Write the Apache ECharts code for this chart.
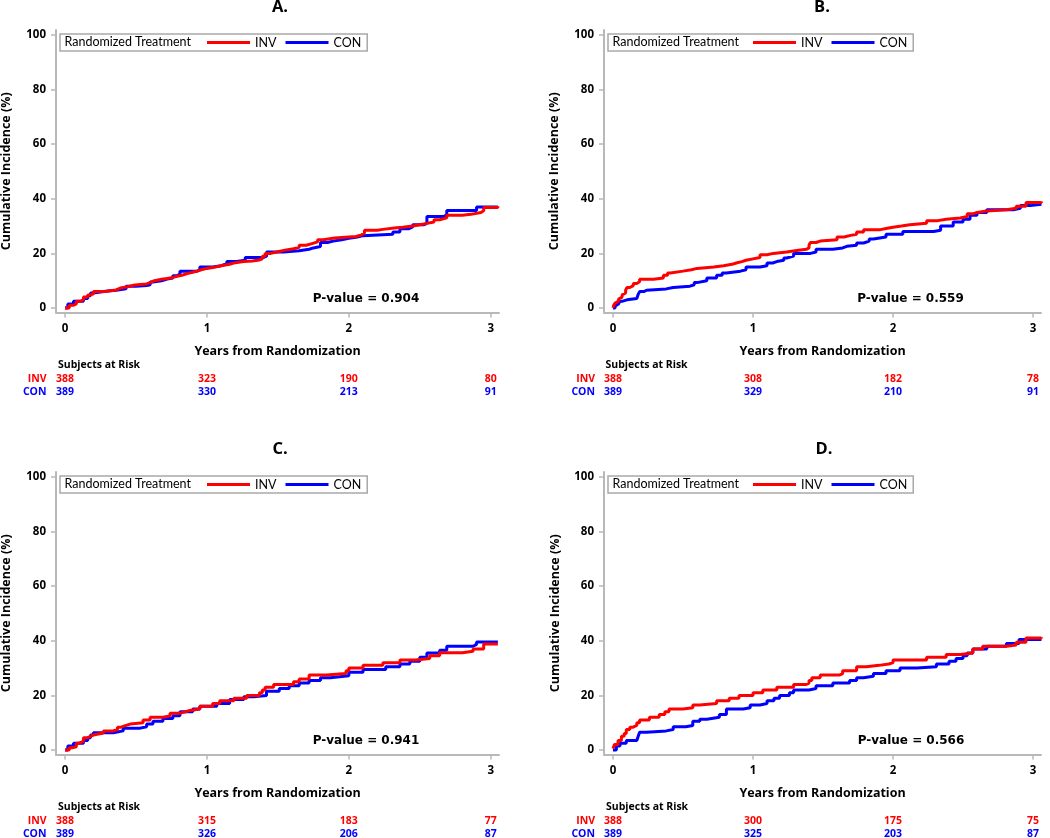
<!DOCTYPE html>
<html><head><meta charset="utf-8">
<script src="https://cdn.jsdelivr.net/npm/echarts@6/dist/echarts.min.js"></script>
<style>html,body{margin:0;padding:0;background:#fff}#c{width:1050px;height:838px}</style>
</head><body><div id="c"></div>
<script>
// ---------- data ----------
const xTicks = [0, 1, 2, 3];
const yTicks = [0, 20, 40, 60, 80, 100];
const panelTitles = ['A.', 'B.', 'C.', 'D.'];
const pValues = ['0.904', '0.559', '0.941', '0.566'];
const groupNames = ['INV', 'CON'];

const invA = [[0,0],[0.03,1],[0.06,1.5],[0.08,2.5],[0.11,3],[0.13,4],[0.16,4.8],[0.18,5.2],[0.2,6],[0.28,6.3],[0.32,6.6],[0.36,7.3],[0.39,7.8],[0.44,8.3],[0.48,8.6],[0.53,8.8],[0.575,9.3],[0.6,10],[0.63,10.5],[0.68,10.8],[0.72,11.2],[0.76,11.6],[0.79,12.1],[0.83,12.6],[0.86,13.1],[0.9,13.5],[0.93,14],[0.96,14.5],[1.0,14.8],[1.04,15.5],[1.1,16],[1.16,16.6],[1.2,17],[1.26,17.2],[1.32,17.6],[1.37,18],[1.39,19],[1.41,20],[1.45,20.6],[1.5,21.2],[1.55,21.7],[1.61,22.2],[1.65,23],[1.7,23.6],[1.74,24.2],[1.78,25],[1.82,25.6],[1.9,26],[2.0,26.2],[2.05,26.8],[2.09,27.5],[2.11,28.5],[2.2,28.8],[2.24,29.3],[2.32,29.6],[2.38,30],[2.45,30.5],[2.5,31],[2.55,31.5],[2.6,32.3],[2.64,33],[2.69,34],[2.8,34.3],[2.86,35],[2.93,35.6],[2.95,36.8],[3.05,37.3]];
const conA = [[0,0],[0.02,1.5],[0.06,2.5],[0.13,3.5],[0.16,4.5],[0.18,5.5],[0.2,6.2],[0.3,6.5],[0.36,7],[0.43,8],[0.5,8.2],[0.575,8.5],[0.6,9.5],[0.62,10],[0.68,10.6],[0.72,11],[0.76,11.8],[0.79,12.5],[0.81,13.5],[0.93,14],[0.95,15],[1.04,15.5],[1.1,16.2],[1.14,17],[1.21,17.5],[1.27,18.5],[1.4,19],[1.42,20.5],[1.54,21],[1.65,21.5],[1.72,22],[1.75,22.5],[1.8,24],[1.85,24.5],[1.89,25],[1.95,25.5],[2.0,26],[2.06,26.5],[2.1,27],[2.31,27.8],[2.36,29],[2.42,29.7],[2.45,30.5],[2.53,31],[2.55,33.5],[2.67,34.2],[2.69,35.7],[2.9,37],[3.05,37]];

const invB = [[0,0],[0.005,1],[0.015,1.8],[0.026,2.5],[0.04,3.3],[0.05,4],[0.065,4.8],[0.074,5.5],[0.09,6.5],[0.1,7.5],[0.12,8.2],[0.145,9],[0.17,9.6],[0.19,10.5],[0.29,11],[0.36,12],[0.39,12.8],[0.41,13.5],[0.5,14],[0.56,14.5],[0.6,15],[0.72,15.5],[0.79,16],[0.85,16.5],[0.88,17],[0.92,17.5],[0.95,18],[1.0,18.5],[1.05,19.5],[1.1,20],[1.145,20.5],[1.24,21],[1.3,21.5],[1.38,22],[1.4,23],[1.41,24],[1.45,24.5],[1.48,25],[1.6,26],[1.65,26.5],[1.69,27],[1.74,27.8],[1.79,28.7],[1.91,29.2],[1.96,29.6],[2.0,30],[2.06,30.5],[2.12,31],[2.24,32],[2.32,32.5],[2.38,33],[2.48,33.5],[2.53,34.5],[2.57,35],[2.6,35.5],[2.67,36],[2.81,36.5],[2.88,37.3],[2.95,38.6],[3.06,39]];
const conB = [[0,0],[0.015,0.8],[0.026,1.5],[0.04,2],[0.05,2.5],[0.07,3],[0.1,3.5],[0.17,4],[0.18,5],[0.19,6],[0.22,6.5],[0.24,7],[0.38,7.5],[0.43,8],[0.55,8.5],[0.58,9.3],[0.6,10],[0.67,11],[0.74,12],[0.78,12.8],[0.81,13.5],[0.91,14],[0.95,15],[1.05,15.5],[1.1,16.5],[1.14,17],[1.17,17.5],[1.22,18.3],[1.24,19],[1.29,20],[1.41,20.5],[1.45,21.5],[1.57,22],[1.64,22.6],[1.67,23],[1.74,23.8],[1.79,24.5],[1.83,25.3],[1.86,26],[1.95,27],[2.07,28],[2.29,28.5],[2.34,30],[2.43,31.5],[2.5,32.5],[2.55,34],[2.6,35],[2.67,36],[2.86,36.5],[2.91,37.5],[2.98,38],[3.06,38]];

const invC = [[0,0],[0.03,0.8],[0.05,1.2],[0.08,2.5],[0.1,3.2],[0.13,4.5],[0.16,5],[0.18,5.5],[0.2,6.2],[0.27,7],[0.34,7.5],[0.37,8.3],[0.39,9],[0.43,9.5],[0.46,10],[0.55,11],[0.6,12],[0.69,12.5],[0.74,13.5],[0.81,14],[0.85,14.5],[0.88,15],[0.95,16],[1.04,17],[1.09,18],[1.19,19],[1.28,20],[1.37,21],[1.39,22],[1.41,23],[1.47,24],[1.61,25],[1.65,26],[1.72,27.5],[1.84,28],[1.98,29],[2.0,30],[2.1,31],[2.24,32],[2.36,33],[2.47,33.5],[2.57,34.5],[2.64,35.6],[2.8,36.2],[2.875,37],[2.95,38.8],[3.05,39]];
const conC = [[0,0],[0.02,1.5],[0.06,2.5],[0.13,3.5],[0.16,4.5],[0.18,5.5],[0.2,6.3],[0.34,7],[0.41,8],[0.53,8.5],[0.575,9.5],[0.62,10.5],[0.69,11.5],[0.76,12.5],[0.81,14],[0.9,15],[0.95,16],[1.07,17],[1.16,18.5],[1.26,19.5],[1.33,20],[1.42,21.5],[1.51,22.5],[1.58,23.5],[1.65,24.5],[1.72,25.5],[1.8,26.5],[1.87,27.2],[2.0,28.5],[2.1,29.5],[2.26,30.5],[2.36,31.5],[2.43,32.5],[2.5,34],[2.55,35.5],[2.64,36.5],[2.69,38],[2.875,38.7],[2.9,39.6],[3.05,39.6]];

const invD = [[0,0.5],[0.01,2],[0.036,3.5],[0.06,5],[0.08,6],[0.095,7.5],[0.12,8.3],[0.14,9],[0.17,10],[0.19,11],[0.26,12],[0.33,13],[0.37,14],[0.4,15],[0.5,15.5],[0.57,16.5],[0.62,17],[0.74,18],[0.83,19],[0.9,20],[1.0,21],[1.07,22],[1.17,23],[1.29,24],[1.38,24.5],[1.4,25.5],[1.42,26.5],[1.48,27.5],[1.62,28],[1.64,29],[1.74,30.5],[1.81,31],[1.9,31.5],[1.97,32],[2.0,33],[2.24,34],[2.38,35],[2.48,35.5],[2.57,37],[2.64,38],[2.81,38.5],[2.88,39.5],[2.95,41],[3.06,41.3]];
const conD = [[0,0],[0.024,1.5],[0.05,2.5],[0.095,3.5],[0.17,4],[0.18,5],[0.19,6.5],[0.24,7],[0.38,7.5],[0.43,8.5],[0.52,9],[0.57,10.5],[0.62,11.3],[0.67,12],[0.76,13],[0.81,15],[0.93,15.5],[0.98,16.5],[1.05,17],[1.1,18],[1.15,19],[1.19,20],[1.26,21],[1.29,22],[1.4,22.5],[1.45,23.5],[1.57,24.5],[1.69,25.5],[1.74,26.5],[1.79,27],[1.86,28],[1.95,29],[2.05,30],[2.17,30.5],[2.31,31.5],[2.4,32.5],[2.45,33.5],[2.5,34.5],[2.53,35.5],[2.57,37],[2.67,38],[2.81,39],[2.9,40.5],[3.06,40.5]];

const riskInvA = [388, 323, 190, 80], riskConA = [389, 330, 213, 91];
const riskInvB = [388, 308, 182, 78], riskConB = [389, 329, 210, 91];
const riskInvC = [388, 315, 183, 77], riskConC = [389, 326, 206, 87];
const riskInvD = [388, 300, 175, 75], riskConD = [389, 325, 203, 87];

// ---------- layout ----------
const panels = [
  {inv: invA, con: conA, rInv: riskInvA, rCon: riskConA},
  {inv: invB, con: conB, rInv: riskInvB, rCon: riskConB},
  {inv: invC, con: conC, rInv: riskInvC, rCon: riskConC},
  {inv: invD, con: conD, rInv: riskInvD, rCon: riskConD}
];
const geo = [
  {left: 56,  top: 30,  width: 443, xMin: -0.0634, xMax: 3.058, titleX: 280, titleY: 7.5, pX: 366, pY: 299, yNameX: 6.5, legLeft: 60, legPad: 147, riskLabelX: 46.5, riskTextX: 58, dy: 0},
  {left: 604, top: 30,  width: 437, xMin: -0.0643, xMax: 3.057, titleX: 822, titleY: 7.5, pX: 910.5, pY: 299, yNameX: 554.5, legLeft: 608, legPad: 145, riskLabelX: 595, riskTextX: 605.5, dy: 0},
  {left: 56,  top: 472, width: 443, xMin: -0.0634, xMax: 3.058, titleX: 280, titleY: 449, pX: 366, pY: 741, yNameX: 6.5, legLeft: 60, legPad: 147, riskLabelX: 46.5, riskTextX: 58, dy: 442},
  {left: 604, top: 472, width: 437, xMin: -0.0643, xMax: 3.057, titleX: 824, titleY: 449, pX: 911, pY: 740.5, yNameX: 555, legLeft: 608, legPad: 145, riskLabelX: 595, riskTextX: 606, dy: 442}
];
const gridH = 282.5, yMin = -1.65, yMax = 101.83;
const axisGray = '#b8b8b8';
const RED = '#ff0000', BLUE = '#0000ff';
const BFONT = '"Open Sans", Lato, sans-serif';
const RFONT = 'Lato, "Open Sans", sans-serif';

const chart = echarts.init(document.getElementById('c'), null, {renderer: 'canvas'});

const grids = [], xAxes = [], yAxes = [], series = [], legends = [];
geo.forEach((g, i) => {
  grids.push({left: g.left, top: g.top, width: g.width, height: gridH, containLabel: false});
  xAxes.push({
    gridIndex: i, type: 'value', min: g.xMin, max: g.xMax,
    axisLine: {show: true, onZero: false, lineStyle: {color: axisGray, width: 2}},
    axisTick: {show: true, length: 5, customValues: xTicks, lineStyle: {color: axisGray, width: 1.5}},
    axisLabel: {customValues: xTicks, margin: 10, fontFamily: BFONT, fontWeight: 'bold', fontSize: 11.5, color: '#000'},
    splitLine: {show: false}
  });
  yAxes.push({
    gridIndex: i, type: 'value', min: yMin, max: yMax,
    axisLine: {show: true, onZero: false, lineStyle: {color: axisGray, width: 2}},
    axisTick: {show: true, length: 5, customValues: yTicks, lineStyle: {color: axisGray, width: 1.5}},
    axisLabel: {customValues: yTicks, margin: 10, fontFamily: BFONT, fontWeight: 'bold', fontSize: 11.5, color: '#000'},
    splitLine: {show: false}
  });
  const p = panels[i];
  series.push({
    type: 'line', name: groupNames[1], xAxisIndex: i, yAxisIndex: i, data: p.con, step: 'end',
    showSymbol: false, symbol: 'none', lineStyle: {width: 3, color: BLUE}, itemStyle: {color: BLUE}, z: 2
  });
  series.push({
    type: 'line', name: groupNames[0], xAxisIndex: i, yAxisIndex: i, data: p.inv, step: 'end',
    showSymbol: false, symbol: 'none', lineStyle: {width: 3, color: RED}, itemStyle: {color: RED}, z: 3
  });
  legends.push({
    data: groupNames, left: g.legLeft, top: 34 + g.dy, orient: 'horizontal', icon: 'rect',
    itemWidth: 43, itemHeight: 3, itemGap: 9, padding: [2, 6, 2, g.legPad],
    borderColor: '#a9a9a9', borderWidth: 1.5, selectedMode: false,
    textStyle: {fontFamily: RFONT, fontSize: 12.5, color: '#000'}
  });
});

chart.setOption({
  animation: false,
  backgroundColor: '#fff',
  grid: grids, xAxis: xAxes, yAxis: yAxes, series: series, legend: legends
});

// ---------- text annotations ----------
const graphics = [];
function txt(x, y, text, opt) {
  graphics.push(Object.assign({
    type: 'text', x: x, y: y, silent: true,
    style: Object.assign({text: text, textAlign: 'center', textVerticalAlign: 'middle', fill: '#000',
      fontFamily: BFONT, fontWeight: 'bold', fontSize: 12}, opt.style || {})
  }, opt.el || {}));
}
geo.forEach((g, i) => {
  const p = panels[i];
  const midX = g.left + g.width / 2;
  const midY = g.top + gridH / 2;
  txt(g.titleX, g.titleY, panelTitles[i], {style: {fontSize: 16.5}});
  txt(g.yNameX, midY, 'Cumulative Incidence (%)', {style: {fontSize: 12.5}, el: {rotation: Math.PI / 2}});
  txt(midX, 351 + g.dy, 'Years from Randomization', {style: {fontSize: 12.5}});
  txt(g.pX, g.pY, 'P-value = ' + pValues[i], {style: {fontFamily: '"DejaVu Sans", sans-serif', fontSize: 12}});
  txt(g.legLeft + 4.5, 42 + g.dy, 'Randomized Treatment', {style: {textAlign: 'left', fontFamily: RFONT, fontWeight: 'normal', fontSize: 12.5}});
  txt(g.riskTextX, 365 + g.dy, 'Subjects at Risk', {style: {textAlign: 'left', fontSize: 10.5}});
  txt(g.riskLabelX, 379.3 + g.dy, groupNames[0], {style: {textAlign: 'right', fontSize: 10.5, fill: RED}});
  txt(g.riskLabelX, 392.3 + g.dy, groupNames[1], {style: {textAlign: 'right', fontSize: 10.5, fill: BLUE}});
  xTicks.forEach((t, k) => {
    const px = chart.convertToPixel({xAxisIndex: i}, t);
    txt(px, 379.3 + g.dy, String(p.rInv[k]), {style: {fontSize: 10.5, fill: RED}});
    txt(px, 392.3 + g.dy, String(p.rCon[k]), {style: {fontSize: 10.5, fill: BLUE}});
  });
});
chart.setOption({graphic: {elements: graphics}});
</script></body></html>
